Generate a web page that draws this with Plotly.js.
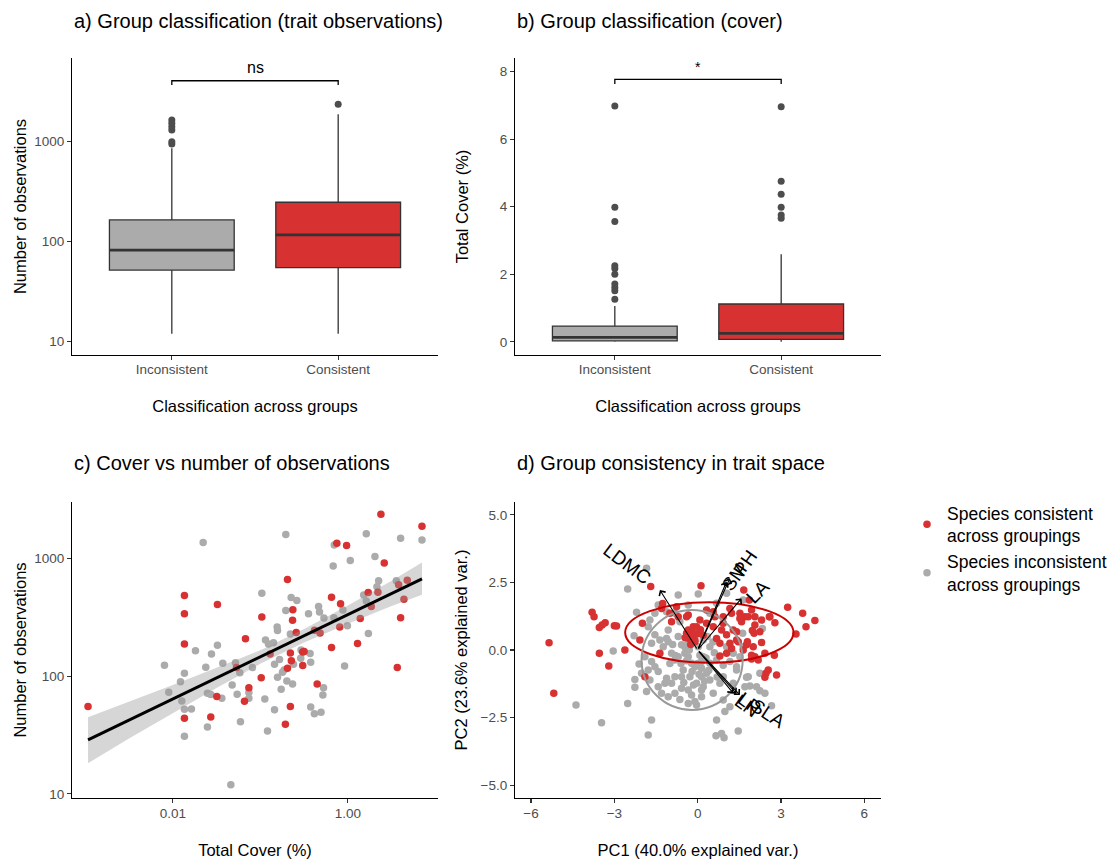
<!DOCTYPE html>
<html><head><meta charset="utf-8">
<script src="https://cdn.plot.ly/plotly-3.0.1.min.js"></script>
<style>html,body{margin:0;padding:0;background:#fff}#chart{width:1117px;height:860px}</style>
</head><body><div id="chart"></div>
<script>
// ---------------- DATA ----------------
const groupLabels = ['Inconsistent', 'Consistent'];
const groupPos = [1, 2];

// a) number of observations per group (box statistics read from picture)
const obsQ1 = [52, 55];
const obsMedian = [82.5, 117];
const obsQ3 = [165, 248];
const obsLowerWhisker = [12, 12];
const obsUpperWhisker = [860, 1880];
const obsOutliersInconsistent = [948, 1000, 1309, 1413, 1525, 1648];
const obsOutliersConsistent = [2366];
const obsBracket = [3690, 4070]; // foot, top
const obsSigLabel = 'ns';
const obsSigLabelY = 5580;

// b) total cover per group
const coverQ1 = [0.03, 0.07];
const coverMedian = [0.13, 0.25];
const coverQ3 = [0.465, 1.12];
const coverLowerWhisker = [0, 0];
const coverUpperWhisker = [1.06, 2.59];
const coverOutliersInconsistent = [6.98, 3.98, 3.56, 2.25, 2.17, 2.0, 1.71, 1.61, 1.51, 1.26];
const coverOutliersConsistent = [6.96, 4.75, 4.37, 3.98, 3.75, 3.66];
const coverBracket = [7.63, 7.77];
const coverSigLabel = '*';
const coverSigLabelY = 8.12;

// c) log10(total cover), log10(number of observations)
const cConsistent = [
[-2.968,1.741],[-1.867,2.683],[-1.867,2.530],[-1.867,2.273],[-1.490,2.607],[-1.170,2.318],[-0.983,2.502],
[-1.272,2.072],[-1.131,1.902],[-0.990,1.987],[-1.497,1.826],[-1.181,1.786],[-1.867,1.642],[-1.566,1.653],
[0.377,3.374],[0.846,3.272],[-0.126,3.127],[-0.015,3.108],[0.415,2.960],[-0.690,2.819],[-0.629,2.564],
[-0.632,2.474],[-0.590,2.369],[-0.187,2.669],[-0.084,2.615],[0.232,2.709],[0.343,2.711],[0.579,2.776],
[0.678,2.813],[0.640,2.652],[0.267,2.590],[0.141,2.488],[-0.093,2.417],[0.602,2.496],[-0.318,2.366],
[-0.381,2.389],[-0.187,2.242],[0.110,2.276],[-0.657,2.196],[-0.516,2.205],[-0.500,2.208],[-0.646,2.131],
[-0.690,2.066],[-0.516,2.089],[-0.888,2.188],[-0.351,1.933],[0.564,2.072],[-0.657,1.741],[-0.714,1.591]
];
const cInconsistent = [
[-1.653,3.133],[-0.983,2.703],[-1.490,2.261],[-1.741,2.216],[-1.558,2.188],[-2.095,2.092],[-1.623,2.075],
[-1.429,2.109],[-1.284,2.114],[-1.234,2.029],[-1.090,2.072],[-1.867,2.024],[-1.912,1.953],[-1.322,1.925],
[-2.046,1.862],[-1.604,1.854],[-1.566,1.843],[-1.440,1.812],[-1.265,1.846],[-1.131,1.860],[-1.131,1.812],
[-1.897,1.789],[-1.867,1.718],[-1.787,1.721],[-1.227,1.613],[-1.604,1.568],[-1.867,1.489],[-1.337,1.079],
[-0.709,3.201],[0.210,3.209],[0.602,3.170],[0.846,3.156],[-0.156,3.113],[0.027,2.980],[0.309,3.014],
[-0.168,2.935],[-0.648,2.666],[-0.583,2.641],[-0.709,2.556],[0.351,2.810],[0.553,2.810],[0.332,2.759],
[0.180,2.689],[0.210,2.638],[-0.335,2.590],[-0.324,2.544],[-0.450,2.530],[-0.274,2.493],[-0.160,2.496],
[-0.057,2.561],[-0.808,2.417],[-0.804,2.386],[-0.006,2.428],[0.234,2.361],[-0.941,2.307],[-0.850,2.284],
[-0.907,2.273],[-0.657,2.358],[-0.535,2.222],[-0.432,2.191],[-0.539,2.151],[-0.425,2.117],[-0.621,2.100],
[-0.781,2.140],[-0.838,2.100],[-0.728,2.052],[-0.747,2.032],[-0.804,1.990],[-0.697,1.959],[-0.632,1.933],
[-0.762,1.888],[-0.949,1.806],[-0.838,1.715],[-0.038,2.086],[-0.278,1.902],[-0.286,1.840],[-0.425,1.738],
[-0.383,1.681],[-0.307,1.693],[-0.918,1.534]
];
// fitted line and confidence band (log10 units), read at these cover positions
const fitCoverLog = [-2.968, 0.846];
const fitObsLog = [1.458, 2.825];
const bandCoverLog = [-2.968, -2.5, -2, -1.5, -1, -0.5, 0, 0.5, 0.846];
const bandHighLog = [1.65, 1.78, 1.925, 2.07, 2.22, 2.40, 2.60, 2.81, 2.963];
const bandLowLog = [1.26, 1.47, 1.685, 1.90, 2.105, 2.285, 2.445, 2.595, 2.69];

// d) PCA scores (PC1, PC2)
const dConsistent = [
[-5.35,0.27],[-5.18,-1.60],[-3.80,1.40],[-3.73,1.23],[-3.54,0.83],[-3.44,0.93],[-3.33,1.01],[-3.54,-0.12],
[-3.20,-0.59],[-3.00,0.90],[-2.92,0.89],[-2.62,0.00],[-1.69,2.35],[-1.26,1.72],[-1.30,1.54],[-1.99,0.99],
[-2.08,0.37],[-1.36,-0.12],[-1.90,-0.99],[0.12,2.38],[1.66,2.22],[1.86,1.85],[3.24,1.58],[3.78,1.36],
[4.22,1.09],[3.90,0.86],[3.54,0.59],[2.76,-0.19],[2.84,-0.93],[2.46,-0.86],[2.54,-0.74],[2.42,-1.01],
[2.06,-0.25],[2.18,-0.37],[2.30,0.28],[2.03,0.62],[2.06,0.93],[2.30,1.11],[2.58,1.23],[2.78,1.01],
[1.52,1.36],[1.58,1.05],[1.28,0.74],[1.40,0.37],[1.22,0.06],[1.64,0.00],[1.04,-0.12],[0.86,0.74],
[0.92,1.23],[0.56,1.42],[0.32,1.48],[0.08,1.11],[-0.16,0.86],[-0.40,0.62],[-0.30,0.43],[-0.10,0.31],
[-0.34,1.30],[-0.94,1.05],[-1.00,1.36],[-0.76,1.60],[1.16,1.54],[1.94,1.48],[1.70,1.23],[2.24,0.68],
[1.76,0.19],[1.94,-0.19],[0.68,0.43],[0.80,0.25],[0.56,0.86],[2.60,1.23],[2.06,1.23],[1.97,0.72],
[2.00,0.12],[1.79,0.31],[2.42,-0.12],[1.94,-0.33],[0.80,-0.22],[1.40,0.68],[1.46,0.31],[1.16,0.25],
[1.04,0.56],[1.52,1.17],[1.22,1.36],[0.92,0.99],[0.62,1.23],[0.32,0.99],[-0.04,0.86],[-0.16,0.31],
[1.82,1.23],[-0.34,0.74],[-0.28,0.43],[-0.16,0.62],[-0.10,0.37],[-0.40,1.23],[-0.70,1.23],
[-0.20,0.50],[0.00,0.60],[-0.45,0.45],[0.10,0.75],[-0.25,0.20],[0.20,0.55]
];
const dInconsistent = [
[-2.52,2.26],[-1.84,3.03],[-3.04,-0.04],[-4.38,-2.04],[-3.46,-2.69],[-2.52,-1.98],[-2.26,-1.09],[-2.26,-1.38],
[-1.78,-3.15],[-1.66,-2.59],[-0.70,2.04],[0.02,2.07],[0.68,-2.59],[0.66,-3.17],[0.86,-3.09],[0.95,-3.25],
[1.46,-3.00],[0.98,-2.28],[1.88,-1.33],[1.76,-1.01],[1.40,-0.74],[2.24,-1.51],[2.42,-1.60],[2.66,-2.06],
[2.33,0.80],[1.62,0.62],[-2.29,0.53],[-2.11,-0.52],[-1.84,-1.54],[-1.72,-1.11],[-1.54,-0.62],[-1.90,-0.25],
[-1.66,0.25],[-1.54,0.56],[-1.36,0.37],[-1.24,0.12],[-1.12,0.43],[-1.06,0.31],[-0.94,-0.12],[-0.82,-0.37],
[-0.70,-0.25],[-0.58,0.19],[-0.46,-0.12],[-0.34,-0.25],[-0.22,-0.49],[-0.10,-0.62],[-0.52,-0.74],[-0.82,-0.99],
[-0.94,-1.23],[-1.18,-1.23],[-1.42,-1.36],[-1.30,-1.60],[-1.06,-1.73],[-0.82,-1.60],[-0.58,-1.42],[-0.34,-1.48],
[-0.22,-1.67],[-0.64,-1.83],[-0.34,-1.98],[-0.04,-2.04],[-1.78,-0.74],[-2.02,-0.86],[-1.66,-0.43],[-1.42,-0.80],
[-1.12,-1.05],[-0.58,-0.99],[-0.28,-0.99],[-0.04,-1.23],[0.14,-0.99],[0.14,-1.48],[0.14,-1.73],[-0.10,-1.91],
[-1.06,0.74],[-0.82,1.36],[-1.12,1.42],[-1.54,1.36],[-1.72,1.11],[-1.78,0.86],[-1.42,1.67],[-0.34,1.67],
[-0.64,1.05],[-0.34,0.25],[0.02,0.12],[0.08,-0.19],[0.14,-0.43],[0.14,-0.68],[0.32,-0.86],[0.44,1.36],
[0.68,1.73],[0.20,0.37],[0.44,0.12],[0.20,-0.25],[0.44,-0.49],[0.68,-0.37],[0.92,-0.56],[1.16,-0.43],
[1.40,-0.62],[1.52,-0.25],[1.28,-0.12],[1.04,0.12],[1.64,0.12],[1.82,-0.99],[2.12,-1.36],[2.24,-0.86],
[1.70,-1.36],[1.28,-1.23],[0.92,-0.99],[0.80,-1.23],[0.44,-1.11],[0.20,-1.36],[0.56,-1.60],[0.92,-1.85],
[1.16,-2.10],[1.64,1.85],[1.04,2.10],[-2.20,1.40],
[-0.60,-0.50],[-0.40,-0.40],[-0.20,-0.80],[0.00,-0.50],[0.30,-0.30],[-0.80,-0.20],[-0.30,0.00],[0.05,-0.90],
[0.40,-0.75],[-0.50,-1.20],[0.25,-1.15],[-0.70,0.50],[-0.45,0.10],[0.60,-0.10],[0.55,0.30],[-1.00,-0.50],
[-0.15,-1.30],[0.35,0.50],[0.70,-1.00],[-0.90,0.20]
];
// loading arrows (tip positions) and labels
const loadingNames = ['LDMC', 'SM', 'PH', 'LA', 'LN', 'LP', 'SLA'];
const loadingTipPC1 = [-1.36, 1.04, 1.16, 1.58, 1.28, 1.40, 1.52];
const loadingTipPC2 = [2.22, 2.53, 2.66, 1.91, -1.60, -1.62, -1.67];
const loadingLabelPC1 = [-2.56, 1.34, 1.70, 2.18, 1.76, 1.88, 2.54];
const loadingLabelPC2 = [3.19, 2.71, 3.21, 2.16, -2.04, -1.97, -2.34];
const loadingLabelAngle = [37, -55, -55, -45, 36, 36, 33];
// group ellipses: [centre PC1, centre PC2, half-width, half-height]
const ellipseConsistent = [0.42, 0.645, 3.03, 1.12];
const ellipseInconsistent = [-0.20, -0.37, 1.82, 1.85];

// ---------------- STYLE ----------------
const RED = '#D83131', GREY = '#ABABAB', OUT = '#4D4D4D', EDGE = '#333333';
const BOXW = 0.75;
const FONT = 'Liberation Sans, Arial, Helvetica, sans-serif';
const W = 1117, H = 860;
const px = v => v / W, py = v => 1 - v / H;

const traces = [];
function boxes(ax, ay, q1, med, q3, lo, hi) {
  const fills = [GREY, RED];
  groupPos.forEach((g, i) => {
    traces.push({type:'box', x:[g], q1:[q1[i]], median:[med[i]], q3:[q3[i]], lowerfence:[lo[i]], upperfence:[hi[i]],
      width:BOXW, fillcolor:fills[i], line:{color:EDGE, width:1.3}, whiskerwidth:0,
      xaxis:ax, yaxis:ay, showlegend:false, hoverinfo:'skip'});
    traces.push({type:'scatter', mode:'lines', x:[g - BOXW/2, g + BOXW/2], y:[med[i], med[i]],
      line:{color:EDGE, width:2.8}, xaxis:ax, yaxis:ay, showlegend:false, hoverinfo:'skip'});
  });
}
function outliers(ax, ay, inc, con) {
  traces.push({type:'scatter', mode:'markers', x:inc.map(() => groupPos[0]).concat(con.map(() => groupPos[1])),
    y:inc.concat(con), marker:{color:OUT, size:7}, xaxis:ax, yaxis:ay, showlegend:false, hoverinfo:'skip'});
}
function bracket(ax, ay, b) {
  traces.push({type:'scatter', mode:'lines', x:[groupPos[0], groupPos[0], groupPos[1], groupPos[1]],
    y:[b[0], b[1], b[1], b[0]], line:{color:'#000', width:1.3}, xaxis:ax, yaxis:ay, showlegend:false, hoverinfo:'skip'});
}
boxes('x', 'y', obsQ1, obsMedian, obsQ3, obsLowerWhisker, obsUpperWhisker);
outliers('x', 'y', obsOutliersInconsistent, obsOutliersConsistent);
bracket('x', 'y', obsBracket);
boxes('x2', 'y2', coverQ1, coverMedian, coverQ3, coverLowerWhisker, coverUpperWhisker);
outliers('x2', 'y2', coverOutliersInconsistent, coverOutliersConsistent);
bracket('x2', 'y2', coverBracket);

// c
const pow = v => Math.pow(10, v);
traces.push({type:'scatter', mode:'markers', x:cInconsistent.map(p => pow(p[0])), y:cInconsistent.map(p => pow(p[1])),
  marker:{color:GREY, size:7.5}, xaxis:'x3', yaxis:'y3', showlegend:false, hoverinfo:'skip'});
traces.push({type:'scatter', mode:'markers', x:cConsistent.map(p => pow(p[0])), y:cConsistent.map(p => pow(p[1])),
  marker:{color:RED, size:7.5}, xaxis:'x3', yaxis:'y3', showlegend:false, hoverinfo:'skip'});
traces.push({type:'scatter', mode:'lines', fill:'toself', fillcolor:'rgba(153,153,153,0.4)', line:{width:0},
  x:bandCoverLog.concat(bandCoverLog.slice().reverse()).map(pow),
  y:bandHighLog.concat(bandLowLog.slice().reverse()).map(pow),
  xaxis:'x3', yaxis:'y3', showlegend:false, hoverinfo:'skip'});
traces.push({type:'scatter', mode:'lines', x:fitCoverLog.map(pow), y:fitObsLog.map(pow),
  line:{color:'#000', width:3}, xaxis:'x3', yaxis:'y3', showlegend:false, hoverinfo:'skip'});

// d
traces.push({type:'scatter', mode:'markers', x:dInconsistent.map(p => p[0]), y:dInconsistent.map(p => p[1]),
  marker:{color:GREY, size:7.5}, xaxis:'x4', yaxis:'y4', name:'Species inconsistent<br>across groupings', legendrank:2, hoverinfo:'skip'});
traces.push({type:'scatter', mode:'markers', x:dConsistent.map(p => p[0]), y:dConsistent.map(p => p[1]),
  marker:{color:RED, size:7.5}, xaxis:'x4', yaxis:'y4', name:'Species consistent<br>across groupings', legendrank:1, hoverinfo:'skip'});

const axisBase = {showline:true, linecolor:'#000', linewidth:1.1, ticks:'outside', ticklen:4, tickcolor:'#333',
  tickwidth:1.1, showgrid:false, zeroline:false, tickfont:{family:FONT, size:13.5, color:'#4D4D4D'}, fixedrange:true};
const titleFont = {family:FONT, size:16.5, color:'#000'};
const topY = [py(355), py(58)], botY = [py(798.3), py(501.7)];
const leftX = [px(72), px(438)], rightX = [px(515), px(881)];

const layout = {
  width:W, height:H, margin:{l:0, r:0, t:0, b:0}, paper_bgcolor:'#fff', plot_bgcolor:'#fff',
  font:{family:FONT},
  xaxis: Object.assign({}, axisBase, {domain:leftX, range:[0.4, 2.6], tickvals:groupPos, ticktext:groupLabels,
    anchor:'y', ticklabelstandoff:-2, title:{text:'Classification across groups', font:titleFont, standoff:24}}),
  yaxis: Object.assign({}, axisBase, {domain:topY, type:'log', range:[0.867, 3.837], tickvals:[10, 100, 1000],
    ticktext:['10', '100', '1000'], anchor:'x', title:{text:'Number of observations', font:titleFont, standoff:3}}),
  xaxis2: Object.assign({}, axisBase, {domain:rightX, range:[0.4, 2.6], tickvals:groupPos, ticktext:groupLabels,
    anchor:'y2', ticklabelstandoff:-2, title:{text:'Classification across groups', font:titleFont, standoff:24}}),
  yaxis2: Object.assign({}, axisBase, {domain:topY, range:[-0.39, 8.4], tickvals:[0, 2, 4, 6, 8],
    anchor:'x2', title:{text:'Total Cover (%)', font:titleFont, standoff:26}}),
  xaxis3: Object.assign({}, axisBase, {domain:leftX, type:'log', range:[-3.151, 1.029], tickvals:[0.01, 1],
    ticktext:['0.01', '1.00'], anchor:'y3', ticklabelstandoff:-2, title:{text:'Total Cover (%)', font:titleFont, standoff:24}}),
  yaxis3: Object.assign({}, axisBase, {domain:botY, type:'log', range:[0.963, 3.48], tickvals:[10, 100, 1000],
    ticktext:['10', '100', '1000'], anchor:'x3', title:{text:'Number of observations', font:titleFont, standoff:3}}),
  xaxis4: Object.assign({}, axisBase, {domain:rightX, range:[-6.576, 6.6], tickvals:[-6, -3, 0, 3, 6],
    ticktext:['\u22126', '\u22123', '0', '3', '6'], anchor:'y4', ticklabelstandoff:-2,
    title:{text:'PC1 (40.0% explained var.)', font:titleFont, standoff:24}}),
  yaxis4: Object.assign({}, axisBase, {domain:botY, range:[-5.49, 5.49], tickvals:[-5, -2.5, 0, 2.5, 5],
    ticktext:['\u22125.0', '\u22122.5', '0.0', '2.5', '5.0'], anchor:'x4',
    title:{text:'PC2 (23.6% explained var.)', font:titleFont, standoff:8}}),
  showlegend:true,
  legend:{x:px(907), y:py(495), xanchor:'left', yanchor:'top', font:{family:FONT, size:17.5, color:'#000'},
    bgcolor:'rgba(0,0,0,0)', borderwidth:0, tracegroupgap:0},
  annotations:[],
  shapes:[]
};

const panelTitles = ['a) Group classification (trait observations)', 'b) Group classification (cover)',
  'c) Cover vs number of observations', 'd) Group consistency in trait space'];
const titlePos = [[72, 21], [515, 21], [72, 463], [515, 463]];
panelTitles.forEach((t, i) => layout.annotations.push({text:t, xref:'paper', yref:'paper',
  x:px(titlePos[i][0]), y:py(titlePos[i][1]), xanchor:'left', yanchor:'middle', showarrow:false,
  font:{family:FONT, size:20, color:'#000'}}));

// significance labels
const midGroup = (groupPos[0] + groupPos[1]) / 2;
layout.annotations.push({text:obsSigLabel, xref:'x', yref:'y', x:midGroup, y:Math.log10(obsSigLabelY),
  showarrow:false, font:{family:FONT, size:16, color:'#000'}});
layout.annotations.push({text:coverSigLabel, xref:'x2', yref:'y2', x:midGroup, y:coverSigLabelY,
  showarrow:false, font:{family:FONT, size:14, color:'#000'}});

// arrows and labels
loadingNames.forEach((n, i) => {
  layout.annotations.push({xref:'x4', yref:'y4', axref:'x4', ayref:'y4', x:loadingTipPC1[i], y:loadingTipPC2[i],
    ax:0, ay:0, text:'', showarrow:true, arrowhead:4, arrowsize:1.3, arrowwidth:1.1, arrowcolor:'#000'});
});
loadingNames.forEach((n, i) => {
  layout.annotations.push({xref:'x4', yref:'y4', x:loadingLabelPC1[i], y:loadingLabelPC2[i], text:n,
    textangle:loadingLabelAngle[i], showarrow:false, font:{family:FONT, size:19, color:'#000'}});
});

// ellipses
[[ellipseConsistent, '#CC0000'], [ellipseInconsistent, '#999999']].forEach(([e, c]) => {
  layout.shapes.push({type:'circle', xref:'x4', yref:'y4', x0:e[0] - e[2], x1:e[0] + e[2], y0:e[1] - e[3], y1:e[1] + e[3],
    line:{color:c, width:2}, layer:'above'});
});

Plotly.newPlot('chart', traces, layout, {staticPlot:true, displayModeBar:false});
</script></body></html>
